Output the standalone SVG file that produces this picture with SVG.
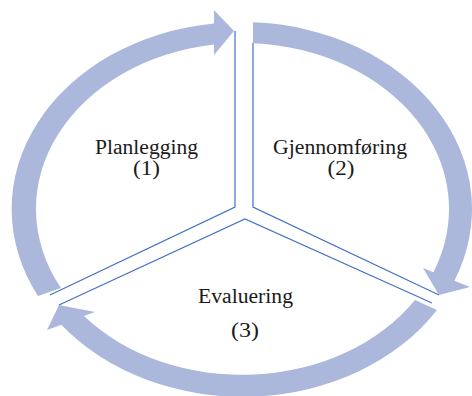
<svg xmlns="http://www.w3.org/2000/svg" width="472" height="396" viewBox="0 0 472 396">
<style>
.arrow{fill:#abb8dc;stroke:none}
.line{fill:none;stroke:#4472c4;stroke-width:1.2}
text{font-family:'Liberation Serif','DejaVu Serif',serif;font-size:20px;fill:#1a1a1a;text-anchor:middle}
</style>
<rect width="472" height="396" fill="#fff"/>
<g id="arrows">
<path id="arrow-1" class="arrow" d="M38,296 A230 187 0 0 1 214,23.4 L214,10 L234,31 L214,55 L214,44.5 A207 166 0 0 0 61,288 Z"/>
<path id="arrow-2" class="arrow" d="M253,22.2 A230 187 0 0 1 454.4,280.7 L470,287 L439,295 L423,268 L433.4,272.2 A207 166 0 0 0 253,43.2 Z"/>
<path id="arrow-3" class="arrow" d="M437,310 A230 187 0 0 1 61.3,324.7 L47,330 L59,305 L95,312 L84,316.1 A207 166 0 0 0 415,300 Z"/>
</g>
<g id="connectors">
<polyline class="line" points="235,31 235,207 50,295"/>
<polyline class="line" points="253,43 253,207 439,295"/>
<polyline class="line" points="59,305 245,219 432,303"/>
</g>
<g id="node-planlegging">
<text font-family="Liberation Serif, serif" x="146.5" y="154" textLength="103" lengthAdjust="spacingAndGlyphs">Planlegging</text>
<text font-family="Liberation Serif, serif" x="146.5" y="175" textLength="27" lengthAdjust="spacingAndGlyphs">(1)</text>
</g>
<g id="node-gjennomforing">
<text font-family="Liberation Serif, serif" x="340" y="154" textLength="134" lengthAdjust="spacingAndGlyphs">Gjennomføring</text>
<text font-family="Liberation Serif, serif" x="341" y="175" textLength="27" lengthAdjust="spacingAndGlyphs">(2)</text>
</g>
<g id="node-evaluering">
<text font-family="Liberation Serif, serif" x="245.5" y="303" textLength="95" lengthAdjust="spacingAndGlyphs">Evaluering</text>
<text font-family="Liberation Serif, serif" x="245" y="337" textLength="28" lengthAdjust="spacingAndGlyphs">(3)</text>
</g>
</svg>
